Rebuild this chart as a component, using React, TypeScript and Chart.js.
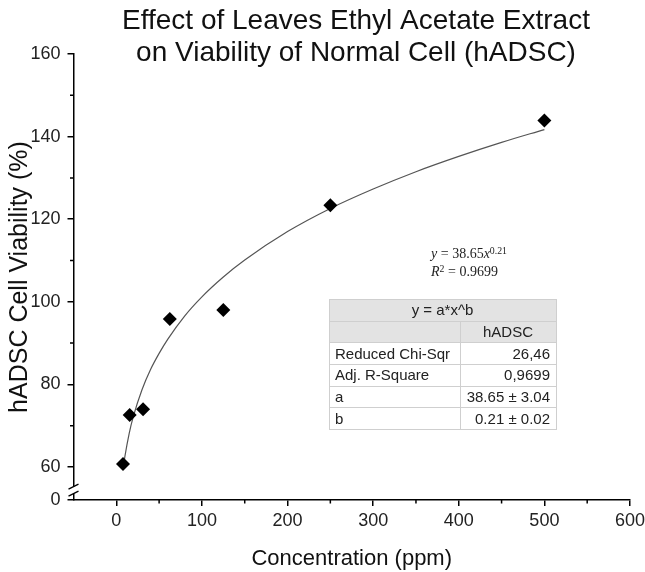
import React, { useEffect, useRef } from "react";
import { Chart, registerables } from "chart.js";

Chart.register(...registerables);

// ---- data ----
const concentrations = [7.8125, 15.625, 31.25, 62.5, 125, 250, 500];
const viability = [60.7, 72.6, 74.0, 95.8, 98.0, 123.4, 143.9];

const fitX = [7.8, 10, 15, 20, 30, 40, 50, 60, 80, 100, 125, 150, 200, 250, 300, 350, 400, 450, 500];
const fitY = [59.4, 62.5, 68.1, 72.3, 78.7, 83.6, 87.5, 90.9, 96.6, 101.2, 106.0, 110.1, 117.0, 122.6, 127.3, 131.5, 135.2, 138.6, 141.7];

const xMajorTicks = [0, 100, 200, 300, 400, 500, 600];
const xMinorTicks = [50, 150, 250, 350, 450, 550];
const yMajorTicks = [60, 80, 100, 120, 140, 160];
const yMinorTicks = [70, 90, 110, 130, 150];
const yAxisBottom = 52; // shown as "0" below the axis break
const yBreakLabel = "0";
const yBreakAt = 54.4;

const titleLines = ["Effect of Leaves Ethyl Acetate Extract", "on Viability of Normal Cell (hADSC)"];
const xTitle = "Concentration (ppm)";
const yTitle = "hADSC Cell Viability (%)";

const eqCoef = "38.65";
const eqExp = "0.21";
const eqR2 = "0.9699";
const tableTitle = "y = a*x^b";
const tableSeries = "hADSC";
const tableRows = [
  ["Reduced Chi-Sqr", "26,46"],
  ["Adj. R-Square", "0,9699"],
  ["a", "38.65 ± 3.04"],
  ["b", "0.21 ± 0.02"],
];

const FONT = '"Liberation Sans", Arial, sans-serif';

export default function App() {
  const ref = useRef<HTMLCanvasElement>(null);

  useEffect(() => {
    const canvas = ref.current!;
    const decorations = {
      id: "decorations",
      afterDraw(chart: any) {
        const ctx = chart.ctx;
        const xs = chart.scales.x;
        const ys = chart.scales.y;
        const area = chart.chartArea;
        ctx.save();
        ctx.strokeStyle = "#000";
        ctx.lineWidth = 1.5;
        ctx.beginPath();
        xMinorTicks.forEach((v) => {
          const p = xs.getPixelForValue(v);
          ctx.moveTo(p, area.bottom);
          ctx.lineTo(p, area.bottom + 3.5);
        });
        yMinorTicks.forEach((v) => {
          const p = ys.getPixelForValue(v);
          ctx.moveTo(area.left, p);
          ctx.lineTo(area.left - 3.5, p);
        });
        ctx.stroke();
        // axis break
        const by = ys.getPixelForValue(yBreakAt);
        ctx.fillStyle = "#fff";
        ctx.fillRect(area.left - 2, by - 3.5, 4, 7);
        ctx.lineWidth = 1.3;
        ctx.beginPath();
        ctx.moveTo(area.left - 5, by - 1);
        ctx.lineTo(area.left + 5, by - 6);
        ctx.moveTo(area.left - 5, by + 6);
        ctx.lineTo(area.left + 5, by + 1);
        ctx.stroke();
        // title
        ctx.fillStyle = "#111";
        ctx.font = `28px ${FONT}`;
        ctx.textAlign = "center";
        ctx.textBaseline = "alphabetic";
        titleLines.forEach((t, i) => ctx.fillText(t, 356, 29 + i * 32));
        ctx.restore();
      },
    };

    const chart = new Chart(canvas, {
      type: "scatter",
      data: {
        datasets: [
          {
            label: "hADSC",
            data: concentrations.map((x, i) => ({ x, y: viability[i] })),
            pointStyle: "rectRot",
            pointRadius: 7,
            backgroundColor: "#000",
            borderColor: "#000",
            borderWidth: 0,
            showLine: false,
            order: 1,
          },
          {
            label: "fit",
            data: fitX.map((x, i) => ({ x, y: fitY[i] })),
            showLine: true,
            borderColor: "#555",
            borderWidth: 1.2,
            pointRadius: 0,
            cubicInterpolationMode: "monotone",
            fill: false,
            order: 2,
          },
        ],
      },
      options: {
        animation: false,
        responsive: false,
        maintainAspectRatio: false,
        layout: { padding: { top: 54, right: 15, left: 0, bottom: 0 } },
        plugins: { legend: { display: false }, tooltip: { enabled: false } },
        scales: {
          x: {
            type: "linear",
            min: -50,
            max: 600,
            afterBuildTicks: (s: any) => {
              s.ticks = xMajorTicks.map((v) => ({ value: v }));
            },
            afterFit: (s: any) => {
              s.height = 72;
              s.paddingRight = 0;
              s.paddingLeft = 0;
            },
            ticks: {
              autoSkip: false,
              maxRotation: 0,
              padding: 4,
              color: "#222",
              font: { family: FONT, size: 18 },
            },
            grid: { display: true, drawOnChartArea: false, drawTicks: true, tickLength: 6, color: "#000", lineWidth: 1.5 },
            border: { display: true, color: "#000", width: 1.5 },
            title: {
              display: true,
              text: xTitle,
              color: "#111",
              font: { family: FONT, size: 22 },
              padding: { top: 0, bottom: 0 },
            },
          },
          y: {
            type: "linear",
            min: yAxisBottom,
            max: 160,
            afterBuildTicks: (s: any) => {
              s.ticks = [yAxisBottom, ...yMajorTicks].map((v) => ({ value: v }));
            },
            afterFit: (s: any) => {
              s.width = 73.5;
            },
            ticks: {
              autoSkip: false,
              padding: 7,
              color: "#222",
              font: { family: FONT, size: 18 },
              callback: (v: any) => (v === yAxisBottom ? yBreakLabel : String(v)),
            },
            grid: { display: true, drawOnChartArea: false, drawTicks: true, tickLength: 6, color: "#000", lineWidth: 1.5 },
            border: { display: true, color: "#000", width: 1.5 },
            title: {
              display: true,
              text: yTitle,
              color: "#111",
              font: { family: FONT, size: 25 },
              padding: { top: 5, bottom: 0 },
            },
          },
        },
      },
      plugins: [decorations],
    } as any);

    return () => chart.destroy();
  }, []);

  const cell: React.CSSProperties = {
    border: "1px solid #cfcfcf",
    padding: "0 6px 0 5px",
    height: 20.7,
    lineHeight: "20px",
    whiteSpace: "nowrap",
  };
  const sup: React.CSSProperties = { fontSize: "70%", position: "relative", top: "-0.45em", verticalAlign: "baseline" };

  return (
    <div style={{ position: "absolute", left: 0, top: 0, width: 645, height: 572, background: "#fff" }}>
      <canvas ref={ref} width={645} height={572} style={{ display: "block" }} />
      <div
        style={{
          position: "absolute",
          left: 431,
          top: 245,
          font: '14px "Liberation Serif", "Times New Roman", serif',
          lineHeight: "17px",
          color: "#222",
          whiteSpace: "nowrap",
        }}
      >
        <div>
          <i>y</i> = {eqCoef}
          <i>x</i>
          <span style={sup}>{eqExp}</span>
        </div>
        <div>
          <i>R</i>
          <span style={sup}>2</span> = {eqR2}
        </div>
      </div>
      <table
        style={{
          position: "absolute",
          left: 329,
          top: 299,
          width: 227,
          borderCollapse: "collapse",
          tableLayout: "fixed",
          font: `15px ${FONT}`,
          color: "#222",
          border: "1.5px solid #8c8c8c",
        }}
      >
        <colgroup>
          <col style={{ width: 131 }} />
          <col style={{ width: 96 }} />
        </colgroup>
        <tbody>
          <tr style={{ background: "#e3e3e3" }}>
            <td colSpan={2} style={{ ...cell, textAlign: "center" }}>
              {tableTitle}
            </td>
          </tr>
          <tr style={{ background: "#e3e3e3" }}>
            <td style={cell}></td>
            <td style={{ ...cell, textAlign: "center" }}>{tableSeries}</td>
          </tr>
          {tableRows.map((r) => (
            <tr key={r[0]}>
              <td style={cell}>{r[0]}</td>
              <td style={{ ...cell, textAlign: "right" }}>{r[1]}</td>
            </tr>
          ))}
        </tbody>
      </table>
    </div>
  );
}
